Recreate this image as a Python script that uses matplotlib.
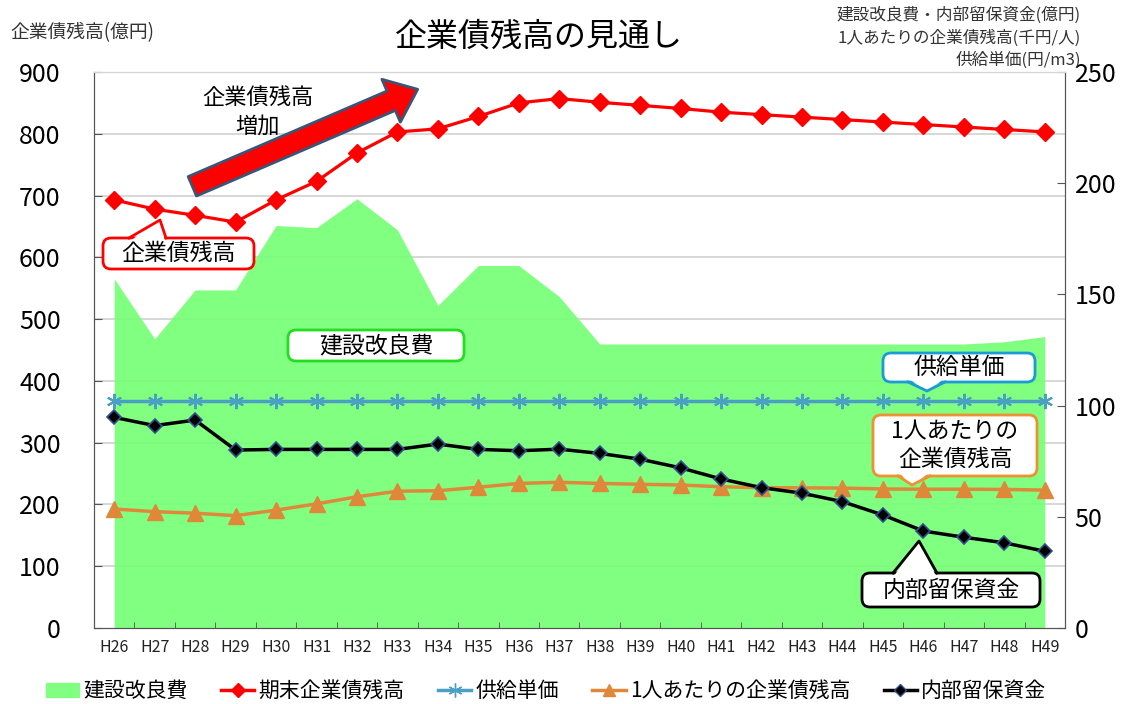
import matplotlib.pyplot as plt
from matplotlib.lines import Line2D
from matplotlib.patches import Patch, FancyBboxPatch, Polygon
from matplotlib.transforms import IdentityTransform

plt.rcParams['font.family'] = ['Noto Sans CJK JP', 'DejaVu Sans']

# データ
years = ['H26', 'H27', 'H28', 'H29', 'H30', 'H31', 'H32', 'H33', 'H34', 'H35', 'H36', 'H37',
         'H38', 'H39', 'H40', 'H41', 'H42', 'H43', 'H44', 'H45', 'H46', 'H47', 'H48', 'H49']
# 期末企業債残高 (億円, 左軸)
bond_balance = [693, 678, 668, 657, 693, 723, 769, 803, 808, 828, 850, 857,
                851, 846, 841, 835, 831, 827, 823, 819, 815, 811, 807, 803]
# 建設改良費 (億円, 右軸)
construction = [157, 130, 152, 152, 181, 180, 193, 179, 145, 163, 163, 149,
                127.7, 127.7, 127.7, 127.7, 127.7, 127.7, 127.7, 127.7, 127.7, 127.7, 128.7, 131]
# 供給単価 (円/m3, 右軸)
unit_price = [102, 102, 102, 102, 102, 102, 102, 102, 102, 102, 102, 102,
              102, 102, 102, 102, 102, 102, 102, 102, 102, 102, 102, 102]
# 1人あたりの企業債残高 (千円/人, 右軸)
per_capita = [53.5, 52.3, 51.6, 50.5, 53.0, 55.8, 59.0, 61.5, 61.7, 63.3, 65.0, 65.5,
              65.0, 64.6, 64.3, 63.5, 63.1, 63.0, 62.9, 62.5, 62.4, 62.4, 62.3, 62.0]
# 内部留保資金 (億円, 右軸)
reserve = [94.7, 91.0, 93.5, 80.0, 80.3, 80.3, 80.3, 80.3, 82.7, 80.3, 79.7, 80.4,
           78.5, 75.9, 72.0, 67.0, 63.1, 60.6, 56.8, 50.8, 43.6, 40.8, 38.3, 34.5]

x = list(range(len(years)))
W, H = 1126, 704

fig = plt.figure(figsize=(W / 100, H / 100), dpi=100)
ax = fig.add_axes([0.0835, 0.108, 0.8623, 0.7897])
ax2 = ax.twinx()
ax.set_zorder(ax2.get_zorder() + 1)
ax.patch.set_visible(False)

ax.set_xlim(-0.5, len(years) - 0.5)
ax.set_ylim(0, 900)
ax2.set_ylim(0, 250)
left_ticks = list(range(0, 901, 100))
ax.set_yticks(left_ticks)
ax2.set_yticks(range(0, 251, 50))

# 目盛線は右軸側に描いて面グラフの下に置く
ax2.set_yticks([v * 250 / 900 for v in left_ticks], minor=True)
ax2.tick_params(axis='y', which='minor', length=0)
ax2.set_axisbelow(True)
ax2.grid(axis='y', which='minor', color='#d4d4d4', lw=1.3)

# 右軸の系列
ax2.fill_between(x, construction, 0, color='#76FF76', alpha=0.92, lw=0, zorder=1)
ax2.plot(x, unit_price, color='#4A9FC4', lw=2.5, marker=(6, 2, 0), ms=11,
         mec='#4A9FC4', mew=1.5, zorder=3)
ax2.plot(x, per_capita, color='#E0883A', lw=2.5, marker='^', ms=11,
         mec='#E0883A', zorder=3)
ax2.plot(x, reserve, color='black', lw=2.5, marker='D', ms=7,
         mfc='black', mec='#2F4F8F', mew=1.2, zorder=4)

# 左軸の系列
ax.plot(x, bond_balance, color='#FF0000', lw=2.3, marker='D', ms=9,
        mec='#FF0000', zorder=5)

ax.set_xticks(x)
ax.set_xticklabels(years, fontsize=11.5, color='#222222')
ax.set_xticks([i + 0.5 for i in x[:-1]], minor=True)
ax.tick_params(axis='x', which='major', length=0, pad=8)
ax.tick_params(axis='x', which='minor', direction='in', length=4, color='#555555')
ax.tick_params(axis='y', direction='in', length=6, labelsize=18, pad=24, color='#555555')
ax2.tick_params(axis='y', which='major', direction='in', length=6, labelsize=18, pad=7,
                color='#555555')

for a in (ax, ax2):
    for s in a.spines.values():
        s.set_color('#555555')
    a.spines['top'].set_color('#d4d4d4')

# タイトル・軸ラベル
fig.text(0.479, 0.948, '企業債残高の見通し', fontsize=23, ha='center', va='center')
fig.text(0.009, 0.953, '企業債残高(億円)', fontsize=13.5, ha='left', va='center', color='#333333')
fig.text(0.96, 0.978, '建設改良費・内部留保資金(億円)', fontsize=12, ha='right', va='center', color='#333333')
fig.text(0.96, 0.946, '1人あたりの企業債残高(千円/人)', fontsize=12, ha='right', va='center', color='#333333')
fig.text(0.96, 0.915, '供給単価(円/m3)', fontsize=12, ha='right', va='center', color='#333333')

# 企業債残高増加の矢印
ax.annotate('', xy=(7.5, 872), xytext=(1.93, 715),
            arrowprops=dict(arrowstyle='simple,head_length=1.3,head_width=2.1,tail_width=0.95',
                            mutation_scale=16, fc='#FF0000', ec='#3B5577', lw=2,
                            shrinkA=0, shrinkB=0), zorder=6)
ax.text(3.55, 836, '企業債残高\n増加', fontsize=16, ha='center', va='center',
        linespacing=1.3, zorder=6)


# 吹き出し (位置は画像のピクセル座標, 左上原点)
def callout(text, box, color, tip=None, fs=16.5):
    x0, y0, x1, y1 = box
    disp = IdentityTransform()
    fig.add_artist(FancyBboxPatch((x0, H - y1), x1 - x0, y1 - y0,
                                  boxstyle='round,pad=0,rounding_size=8',
                                  fc='white', ec=color, lw=2, transform=disp, zorder=10))
    if tip:
        (ax_, ay_), (tx, ty), (bx, by) = tip
        inside = 3 if ty < ay_ else -3
        fig.add_artist(Polygon([(ax_ + 1, H - ay_ - inside), (tx, H - ty), (bx - 1, H - by - inside)],
                               closed=True, fc='white', ec='none', transform=disp, zorder=11))
        fig.add_artist(Line2D([ax_, tx, bx], [H - ay_, H - ty, H - by], color=color, lw=2,
                              transform=disp, zorder=12))
    fig.text((x0 + x1) / 2 / W, 1 - (y0 + y1) / 2 / H, text, fontsize=fs, ha='center',
             va='center', linespacing=1.25, zorder=13)


callout('企業債残高', (103, 238, 254, 269), '#FF0000',
        tip=((129, 238), (160, 220), (166, 238)))
callout('建設改良費', (288, 330, 464, 361), '#22DD22')
callout('供給単価', (883, 353, 1035, 382), '#1A9AD6',
        tip=((908, 382), (927, 391), (945, 382)))
callout('1人あたりの\n企業債残高', (873, 415, 1037, 476), '#F09030',
        tip=((898, 476), (912, 485), (930, 476)))
callout('内部留保資金', (862, 573, 1040, 607), 'black',
        tip=((893, 573), (919, 541), (937, 573)))

# 凡例
handles = [
    Patch(color='#80FF80', label='建設改良費'),
    Line2D([], [], color='#FF0000', lw=2.5, marker='D', ms=7, label='期末企業債残高'),
    Line2D([], [], color='#4A9FC4', lw=2.5, marker=(6, 2, 0), ms=10, label='供給単価'),
    Line2D([], [], color='#E0883A', lw=2.5, marker='^', ms=9, label='1人あたりの企業債残高'),
    Line2D([], [], color='black', lw=2.5, marker='D', ms=6, mec='#2F4F8F', label='内部留保資金'),
]
fig.legend(handles=handles, loc='center', bbox_to_anchor=(0.485, 0.018), ncol=5,
           frameon=False, fontsize=15, handlelength=1.6, handletextpad=0.2,
           columnspacing=1.6)

fig.savefig('out.png', dpi=100)
